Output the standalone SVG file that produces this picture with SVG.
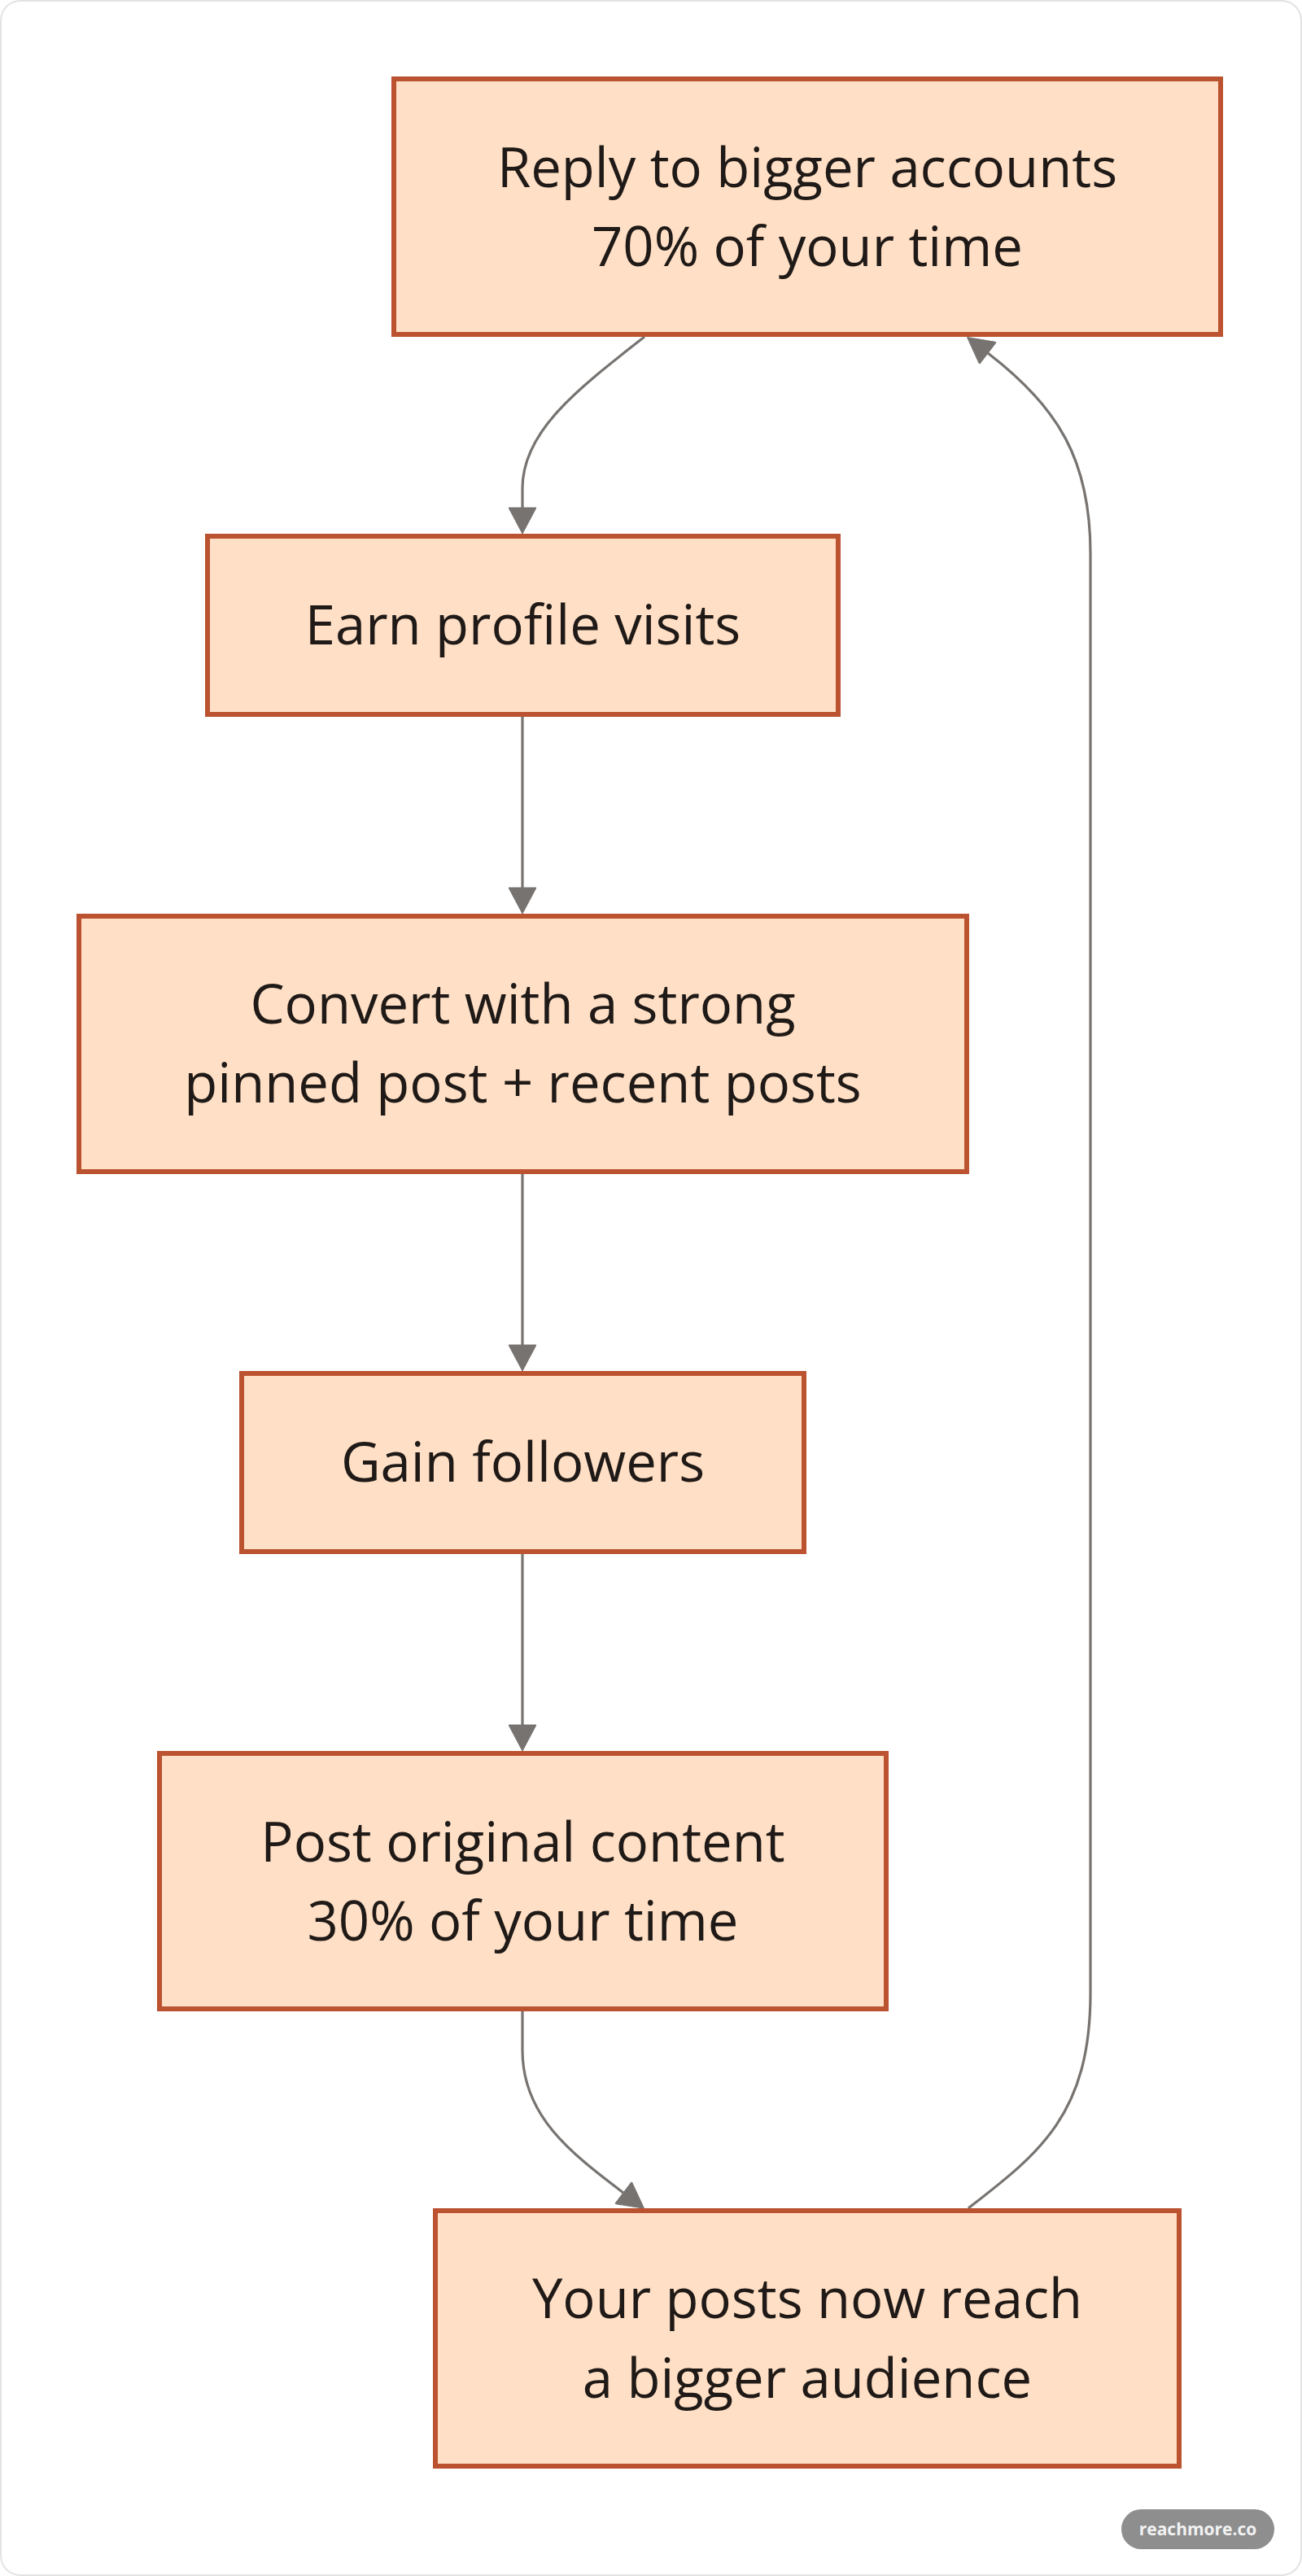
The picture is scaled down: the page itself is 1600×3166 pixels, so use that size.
<svg xmlns="http://www.w3.org/2000/svg" width="1600" height="3166" viewBox="0 0 1600 3166">
<style>
.node rect{fill:#ffdfc5;stroke:#bb5230;stroke-width:6}
.node text{font-family:"Open Sans","Noto Sans",sans-serif;font-size:67px;fill:#1f1a17;text-anchor:middle}
.edge{fill:none;stroke:#777370;stroke-width:3.2}
</style>
<defs>
<marker id="arrow" markerUnits="userSpaceOnUse" markerWidth="34" markerHeight="34" viewBox="0 0 32 34" refX="0" refY="17" orient="auto">
<path d="M0,0 L32,17 L0,34 z" fill="#777370" stroke="#777370" stroke-width="1" stroke-linejoin="round"/>
</marker>
</defs>
<rect x="1" y="1" width="1598" height="3164" rx="24" fill="#ffffff" stroke="#e3e3e3" stroke-width="2"/>
<g id="connectors">
<path class="edge" d="M792,414 C710,478 642,530 642,600 L642,624" marker-end="url(#arrow)"/>
<path class="edge" d="M642,881 L642,1091" marker-end="url(#arrow)"/>
<path class="edge" d="M642,1443 L642,1653" marker-end="url(#arrow)"/>
<path class="edge" d="M642,1910 L642,2120" marker-end="url(#arrow)"/>
<path class="edge" d="M642,2472 L642,2520 C642,2600 700,2645 766,2695" marker-end="url(#arrow)"/>
<path class="edge" d="M1190,2714 C1275,2648 1340,2600 1340,2450 L1340,680 C1340,565 1300,500 1214,434" marker-end="url(#arrow)"/>
</g>
<g id="node-reply" class="node">
<rect x="484" y="97" width="1016" height="314"/>
<text x="992" y="230">Reply to bigger accounts</text>
<text x="992" y="327">70% of your time</text>
</g>
<g id="node-earn" class="node">
<rect x="255" y="659" width="775" height="219"/>
<text x="642.5" y="792">Earn profile visits</text>
</g>
<g id="node-convert" class="node">
<rect x="97" y="1126" width="1091" height="314"/>
<text x="642.5" y="1258">Convert with a strong</text>
<text x="642.5" y="1355">pinned post + recent posts</text>
</g>
<g id="node-gain" class="node">
<rect x="297" y="1688" width="691" height="219"/>
<text x="642.5" y="1821">Gain followers</text>
</g>
<g id="node-post" class="node">
<rect x="196" y="2155" width="893" height="314"/>
<text x="642.5" y="2288">Post original content</text>
<text x="642.5" y="2385">30% of your time</text>
</g>
<g id="node-reach" class="node">
<rect x="535" y="2717" width="914" height="314"/>
<text x="992" y="2849">Your posts now reach</text>
<text x="992" y="2947">a bigger audience</text>
</g>
<g id="watermark">
<rect x="1378" y="3084" width="188" height="49" rx="24.5" fill="#8e8e8e"/>
<text x="1472" y="3116" font-family="Open Sans,Noto Sans,sans-serif" font-size="21" font-weight="bold" fill="#f2f2f2" text-anchor="middle">reachmore.co</text>
</g>
</svg>
